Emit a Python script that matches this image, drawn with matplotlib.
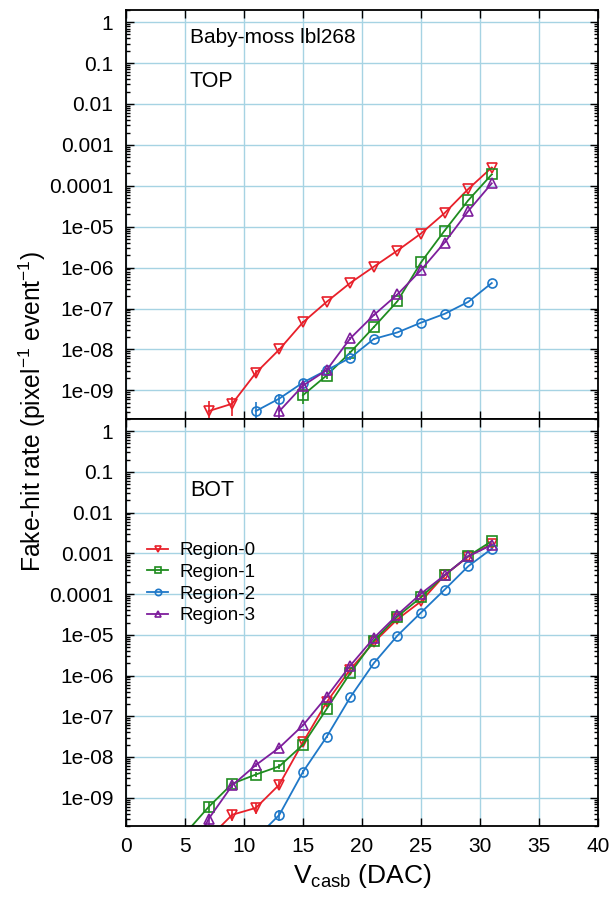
import matplotlib
matplotlib.use("Agg")
import matplotlib.pyplot as plt
import numpy as np
from matplotlib.ticker import FixedLocator, LogLocator, NullFormatter

plt.rcParams['font.family'] = ['Liberation Sans', 'DejaVu Sans']
plt.rcParams['mathtext.fontset'] = 'custom'
plt.rcParams['mathtext.rm'] = 'Liberation Sans'
plt.rcParams['mathtext.it'] = 'Liberation Sans:italic'

# fake-hit rate vs Vcasb, TOP half
x_top_r0 = [7, 9, 11, 13, 15, 17, 19, 21, 23, 25, 27, 29, 31]
top_r0 = [3.1e-10, 4.7e-10, 2.65e-9, 1.0e-8, 4.6e-8, 1.45e-7, 4.2e-7, 1.05e-6, 2.6e-6, 6.8e-6, 2.15e-5, 8.3e-5, 2.8e-4]
top_r0_err = [0.75, 0.5, 0.2, 0.1, 0.05, 0.03, 0.02, 0.01, 0.01, 0.01, 0.01, 0.01, 0.01]

x_top_r1 = [15, 17, 19, 21, 23, 25, 27, 29, 31]
top_r1 = [7.6e-10, 2.3e-9, 8.4e-9, 3.5e-8, 1.5e-7, 1.34e-6, 8.0e-6, 4.4e-5, 1.9e-4]
top_r1_err = [0.4, 0.2, 0.1, 0.05, 0.03, 0.01, 0.01, 0.01, 0.01]

x_top_r2 = [11, 13, 15, 17, 19, 21, 23, 25, 27, 29, 31]
top_r2 = [3.1e-10, 6.3e-10, 1.55e-9, 3.1e-9, 6.2e-9, 1.8e-8, 2.6e-8, 4.5e-8, 7.4e-8, 1.45e-7, 4.2e-7]
top_r2_err = [0.7, 0.3, 0.2, 0.15, 0.1, 0.05, 0.05, 0.03, 0.03, 0.02, 0.01]

x_top_r3 = [13, 15, 17, 19, 21, 23, 25, 27, 29, 31]
top_r3 = [3.1e-10, 1.3e-9, 3.1e-9, 1.85e-8, 6.9e-8, 2.2e-7, 8.7e-7, 4.1e-6, 2.4e-5, 1.15e-4]
top_r3_err = [0.45, 0.2, 0.15, 0.1, 0.05, 0.03, 0.01, 0.01, 0.01, 0.01]

# BOT half
x_bot_r0 = [7, 9, 11, 13, 15, 17, 19, 21, 23, 25, 27, 29, 31]
bot_r0 = [1.0e-10, 3.8e-10, 5.6e-10, 2.1e-9, 2.3e-8, 2.2e-7, 1.4e-6, 6.5e-6, 2.4e-5, 6.6e-5, 2.9e-4, 8.3e-4, 1.7e-3]
bot_r0_err = [0.9, 0.3, 0.3, 0.2, 0.05, 0.02, 0.01, 0.01, 0.01, 0.01, 0.01, 0.01, 0.01]

x_bot_r1 = [5, 7, 9, 11, 13, 15, 17, 19, 21, 23, 25, 27, 29, 31]
bot_r1 = [1.3e-10, 5.9e-10, 2.2e-9, 3.7e-9, 5.9e-9, 2.0e-8, 1.5e-7, 1.14e-6, 7.1e-6, 2.8e-5, 8.3e-5, 2.9e-4, 8.5e-4, 2.0e-3]
bot_r1_err = [0.5, 0.3, 0.2, 0.15, 0.12, 0.05, 0.02, 0.01, 0.01, 0.01, 0.01, 0.01, 0.01, 0.01]

x_bot_r2 = [11, 13, 15, 17, 19, 21, 23, 25, 27, 29, 31]
bot_r2 = [1.0e-10, 3.8e-10, 4.3e-9, 3.1e-8, 2.9e-7, 2.0e-6, 9.5e-6, 3.5e-5, 1.28e-4, 4.8e-4, 1.3e-3]
bot_r2_err = [0.9, 0.3, 0.1, 0.05, 0.02, 0.01, 0.01, 0.01, 0.01, 0.01, 0.01]

x_bot_r3 = [5, 7, 9, 11, 13, 15, 17, 19, 21, 23, 25, 27, 29, 31]
bot_r3 = [2e-11, 3.0e-10, 2.0e-9, 6.3e-9, 1.7e-8, 6.0e-8, 3.0e-7, 1.74e-6, 8.3e-6, 3.1e-5, 1.02e-4, 2.9e-4, 8.5e-4, 1.6e-3]
bot_r3_err = [0.9, 0.3, 0.15, 0.1, 0.08, 0.05, 0.02, 0.01, 0.01, 0.01, 0.01, 0.01, 0.01, 0.01]

labels = ['Region-0', 'Region-1', 'Region-2', 'Region-3']
colors = ['#e8202a', '#1f8c1f', '#1f78c8', '#7e1e9c']
markers = ['v', 's', 'o', '^']

ytick_vals = [1, 0.1, 0.01, 0.001, 0.0001, 1e-5, 1e-6, 1e-7, 1e-8, 1e-9]
ytick_labels = ['1', '0.1', '0.01', '0.001', '0.0001', '1e-05', '1e-06', '1e-07', '1e-08', '1e-09']
xtick_vals = [0, 5, 10, 15, 20, 25, 30, 35, 40]

fig = plt.figure(figsize=(6.13, 8.97), dpi=100)
ax_top = fig.add_axes([0.2055, 0.533, 0.77, 0.456])
ax_bot = fig.add_axes([0.2055, 0.079, 0.77, 0.454])

top_sets = [(x_top_r0, top_r0, top_r0_err), (x_top_r1, top_r1, top_r1_err),
            (x_top_r2, top_r2, top_r2_err), (x_top_r3, top_r3, top_r3_err)]
bot_sets = [(x_bot_r0, bot_r0, bot_r0_err), (x_bot_r1, bot_r1, bot_r1_err),
            (x_bot_r2, bot_r2, bot_r2_err), (x_bot_r3, bot_r3, bot_r3_err)]

for ax, sets in [(ax_top, top_sets), (ax_bot, bot_sets)]:
    ax.set_yscale('log')
    ax.set_xlim(0, 40)
    ax.set_ylim(2e-10, 2)
    for (xs, ys, rel), lab, c, m in zip(sets, labels, colors, markers):
        ys = np.array(ys)
        lo = ys * np.minimum(np.array(rel), 0.999)
        hi = ys * np.array(rel)
        ax.errorbar(xs, ys, yerr=[lo, hi], fmt='none', ecolor=c, elinewidth=1.2, capsize=0)
        ax.plot(xs, ys, color=c, marker=m, ms=6.5, mfc='none', mec=c, mew=1.2, lw=1.3, label=lab)
    ax.yaxis.set_major_locator(FixedLocator(ytick_vals))
    ax.set_yticklabels(ytick_labels)
    ax.yaxis.set_minor_locator(LogLocator(base=10, subs=np.arange(2, 10), numticks=20))
    ax.yaxis.set_minor_formatter(NullFormatter())
    ax.set_xticks(xtick_vals)
    ax.grid(True, which='major', color='#a6d3e3', lw=1.0)
    ax.set_axisbelow(True)
    ax.tick_params(which='both', direction='in', top=True, right=True, labelsize=15, width=1.0)
    ax.tick_params(which='major', length=6)
    ax.tick_params(which='minor', length=3)
    ax.tick_params(axis='x', pad=8)
    ax.tick_params(axis='y', pad=9)
    for sp in ax.spines.values():
        sp.set_linewidth(1.3)

ax_top.tick_params(axis='x', labelbottom=False)

ax_top.text(0.1356, 0.932, 'Baby-moss lbl268', transform=ax_top.transAxes, fontsize=15, va='center')
ax_top.text(0.1356, 0.824, 'TOP', transform=ax_top.transAxes, fontsize=15.5, va='center')
ax_bot.text(0.1356, 0.823, 'BOT', transform=ax_bot.transAxes, fontsize=15.5, va='center')

ax_bot.legend(loc='upper left', bbox_to_anchor=(0.045, 0.697), frameon=False, fontsize=13.5,
              handlelength=1.1, handletextpad=0.6, labelspacing=0.24, borderpad=0,
              borderaxespad=0, markerscale=0.7)

ax_bot.set_xlabel(r'V$_{\mathregular{casb}}$ (DAC)', fontsize=19, labelpad=4)
fig.text(0.053, 0.541, r'Fake-hit rate (pixel$^{\mathregular{-1}}$ event$^{\mathregular{-1}}$)',
         rotation=90, fontsize=17.7, ha='center', va='center')

fig.savefig('out.png', dpi=100)
